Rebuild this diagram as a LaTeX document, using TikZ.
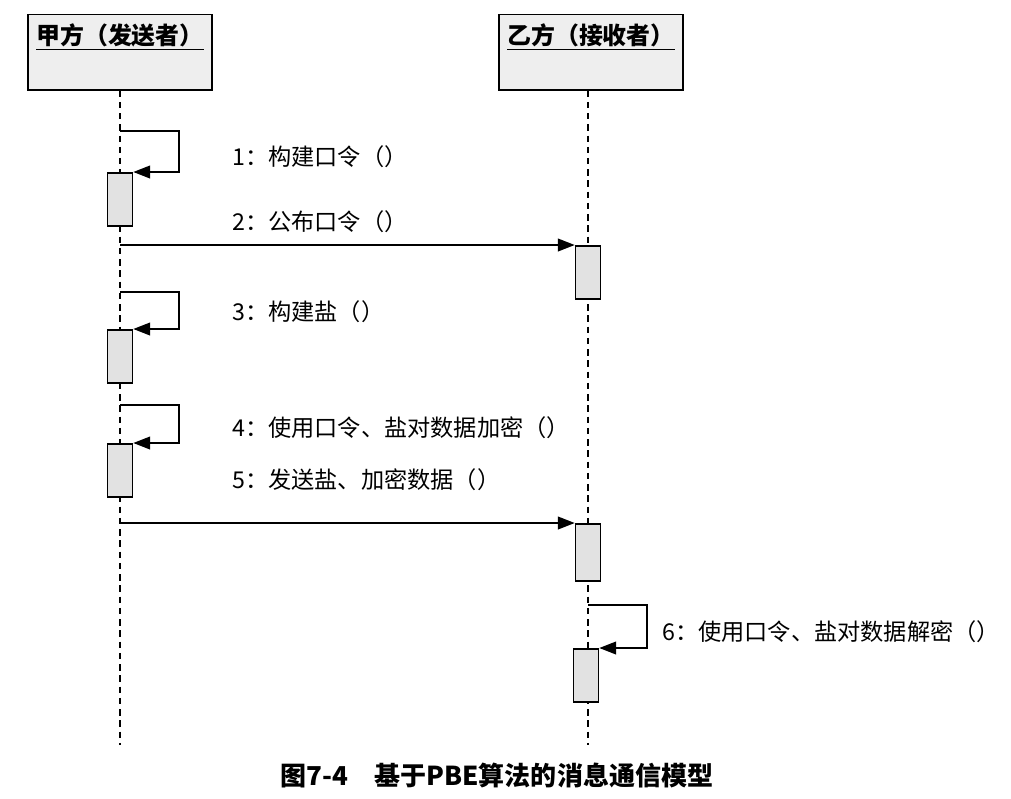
\documentclass[tikz,border=0pt]{standalone}
\usepackage{fontspec}
\setmainfont{Noto Sans CJK SC}
\usetikzlibrary{arrows.meta,positioning,calc}
\definecolor{actgray}{HTML}{E2E2E2}
\definecolor{boxgray}{HTML}{EEEEEE}

\begin{document}
\begin{tikzpicture}[x=0.025cm,y=-0.025cm,>={Triangle[length=12pt,width=9pt]},
  party/.style={draw,line width=1.4pt,fill=boxgray,minimum width=4.6cm,minimum height=1.875cm,inner sep=0pt},
  ptitle/.style={inner sep=1pt,font=\fontsize{17}{20}\selectfont\bfseries},
  act/.style={draw,line width=1.2pt,fill=actgray,minimum width=0.62cm,minimum height=1.32cm,inner sep=0pt,anchor=north},
  life/.style={line width=1.2pt,dash pattern=on 4.5pt off 3.5pt},
  msg/.style={->,line width=1.3pt},
  lab/.style={anchor=west,inner sep=0pt,font=\fontsize{16.5}{20}\selectfont}]
\useasboundingbox (0,0) rectangle (1011,798);
% the two parties
\node[party] (pa) at (120,52) {};
\node[party] (pb) at (591,52) {};
\node[ptitle] (ta) at (120,37) {\underline{甲方（发送者）}};
\node[ptitle] (tb) at (591,37) {\underline{乙方（接收者）}};
% lifelines
\coordinate (ea) at (120,745);
\coordinate (eb) at (588,745);
\draw[life] (pa.south -| ea) -- (ea);
\draw[life] (pb.south -| eb) -- (eb);
% activation boxes
\node[act] (a1) at (120,172) {};
\node[act] (b1) at (588,245) {};
\node[act] (a2) at (120,329) {};
\node[act] (a3) at (120,443) {};
\node[act,minimum height=1.42cm] (b2) at (588,523) {};
\node[act] (b3) at (586,648) {};
% message ends
\coordinate (s1) at (120,131); \coordinate (r1) at (179,172);
\coordinate (m2) at (120,245);
\coordinate (s3) at (120,292); \coordinate (r3) at (179,329);
\coordinate (s4) at (120,405); \coordinate (r4) at (179,443);
\coordinate (m5) at (120,523);
\coordinate (s6) at (588,605); \coordinate (r6) at (647,648);
% messages
\draw[msg] (s1) -| (r1) -- (a1.north east);
\draw[msg] (m2) -- (b1.north west);
\draw[msg] (s3) -| (r3) -- (a2.north east);
\draw[msg] (s4) -| (r4) -- (a3.north east);
\draw[msg] (m5) -- (b2.north west);
\draw[msg] (s6) -| (r6) -- (b3.north east);
% labels
\node[lab] (l1) at (232,157) {1：构建口令（）};
\node[lab] (l2) at (232,222) {2：公布口令（）};
\node[lab] (l3) at (232,312) {3：构建盐（）};
\node[lab] (l4) at (232,428) {4：使用口令、盐对数据加密（）};
\node[lab] (l5) at (232,480) {5：发送盐、加密数据（）};
\node[lab] (l6) at (662,632) {6：使用口令、盐对数据解密（）};
% caption
\node[font=\fontsize{18.5}{22}\selectfont\bfseries] (cap) at (497,775) {图7-4\quad 基于PBE算法的消息通信模型};
\end{tikzpicture}
\end{document}
